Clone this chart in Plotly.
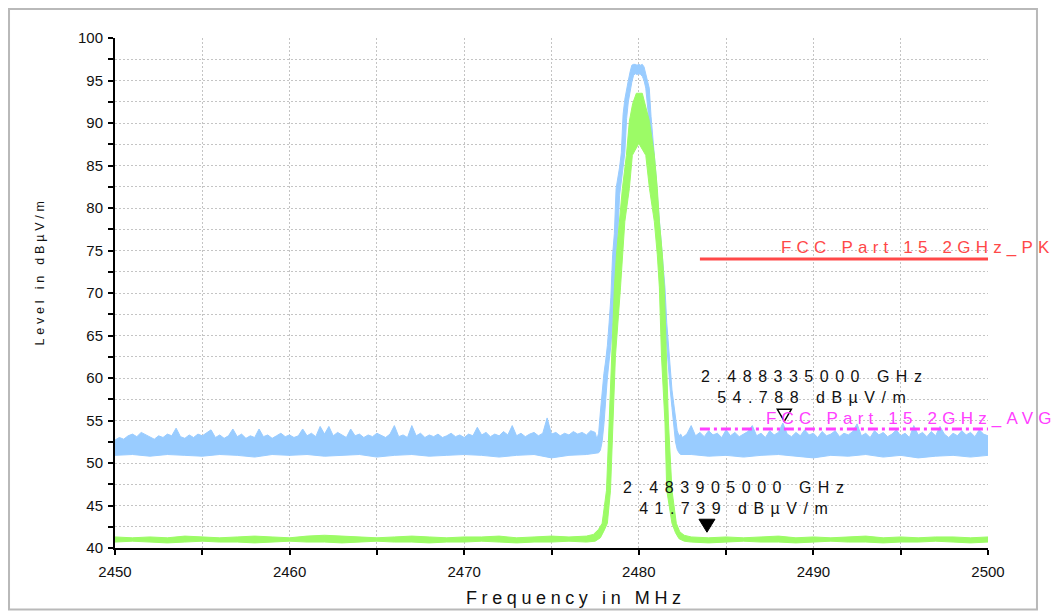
import numpy as np
import plotly.graph_objects as go

# ---------------- data ----------------
# frequency grids (MHz)
noise_left_freq = np.round(np.arange(2450.0, 2477.5 + 1e-9, 0.25), 2)
noise_right_freq = np.round(np.arange(2482.5, 2500.0 + 1e-9, 0.25), 2)
peak_freq = np.round(np.arange(2477.6, 2482.4 + 1e-9, 0.1), 1)
floor_left_freq = np.arange(2450.0, 2477.0 + 1e-9, 1.0)
floor_right_freq = np.arange(2483.0, 2500.0 + 1e-9, 1.0)

# Peak detector trace (blue): upper / lower envelope of the noisy trace
pk_left_top = [
    52.7, 53.0, 52.8, 53.2, 53.4, 53.1, 53.6, 53.3, 53.0, 52.8, 53.2, 53.0, 53.4, 53.2, 54.1, 53.1,
    52.9, 53.3, 53.0, 53.4, 53.2, 53.5, 53.9, 53.0, 53.3, 52.9, 53.2, 54.0, 53.1, 53.4, 52.9, 53.2,
    53.0, 54.0, 53.1, 53.3, 52.9, 53.2, 53.5, 53.1, 53.3, 53.0, 53.2, 54.0, 53.2, 53.5, 53.1, 54.3,
    53.4, 54.3, 53.2, 53.6, 53.3, 53.0, 54.0, 53.2, 53.4, 53.0, 53.3, 53.1, 53.5, 53.2, 53.0, 53.4,
    54.4, 53.1, 53.3, 53.0, 54.4, 53.2, 53.5, 53.0, 53.3, 53.1, 53.4, 53.0, 53.2, 53.5, 53.1, 53.3,
    53.0, 53.4, 53.2, 54.2, 53.3, 53.6, 53.1, 53.4, 53.2, 53.7, 53.3, 54.4, 53.2, 53.5, 53.1, 53.4,
    53.6, 53.2, 53.5, 55.3, 53.4, 53.6, 53.2, 53.5, 53.3, 53.7, 53.4, 53.6, 53.3, 53.8, 53.6,
]
pk_right_top = [
    53.0, 53.4, 54.4, 53.2, 53.6, 53.1, 53.8, 53.3, 53.5, 53.0, 53.9, 53.2, 53.6, 53.1, 53.4, 53.7,
    54.4, 53.2, 53.5, 53.0, 53.8, 53.3, 53.6, 54.7, 53.4, 53.1, 53.6, 53.2, 53.9, 53.3, 53.5, 53.0,
    53.7, 53.2, 53.4, 53.8, 53.1, 53.5, 53.3, 53.7, 54.6, 53.2, 53.5, 53.0, 53.8, 53.3, 53.6, 53.1,
    53.4, 53.9, 53.2, 53.5, 53.0, 54.4, 53.3, 53.6, 53.1, 53.7, 53.2, 54.3, 53.4, 53.0, 53.5, 53.2,
    53.8, 53.3, 53.6, 53.1, 53.9, 53.4, 53.2,
]
pk_peak_top = [
    52.8, 53.5, 56.0, 58.6, 60.5, 62.0, 63.8, 66.5, 69.5, 74.5, 77.0, 82.3, 83.5, 84.8, 86.5, 91.0,
    92.8, 94.1, 95.0, 96.0, 96.8, 96.9, 96.9, 96.8, 96.9, 96.8, 96.9, 96.6, 95.8, 95.0, 94.1, 90.8,
    88.5, 86.2, 83.5, 80.5, 78.0, 75.5, 73.0, 70.6, 66.5, 63.8, 61.2, 58.6, 57.0, 55.2, 53.8, 53.2,
    53.4,
]
pk_peak_bottom = [
    51.1, 51.2, 51.5, 52.5, 54.5, 58.0, 60.0, 62.0, 63.8, 66.5, 69.5, 74.0, 77.0, 81.5, 83.5, 84.8,
    86.5, 90.5, 92.5, 93.8, 94.8, 95.6, 95.8, 95.7, 95.8, 95.7, 95.5, 95.0, 94.1, 92.0, 90.0, 87.5,
    85.5, 83.0, 80.5, 78.0, 75.5, 73.0, 70.0, 66.5, 63.5, 61.0, 58.6, 56.5, 54.0, 52.5, 51.6, 51.2,
    51.0,
]
pk_left_bottom = [
    50.9, 51.0, 50.8, 51.0, 50.9, 50.8, 51.0, 50.9, 50.7, 51.0, 50.9, 51.0, 50.8, 50.9, 51.0, 50.7,
    50.9, 51.0, 50.8, 50.9, 51.0, 50.9, 50.7, 50.9, 51.0, 50.6, 50.9, 51.0,
]
pk_right_bottom = [
    51.0, 50.8, 50.9, 50.7, 50.9, 51.0, 50.8, 50.6, 50.9, 50.8, 51.0, 50.7, 50.9, 50.6, 50.8, 50.9,
    50.7, 50.9,
]

# Average detector trace (green): upper / lower envelope
avg_floor_left_top = [
    41.3, 41.2, 41.3, 41.2, 41.4, 41.3, 41.2, 41.3, 41.4, 41.3, 41.2, 41.4, 41.5, 41.4, 41.3, 41.2,
    41.3, 41.4, 41.3, 41.2, 41.3, 41.3, 41.4, 41.2, 41.3, 41.4, 41.3, 41.4,
]
avg_floor_left_bottom = [
    40.7, 40.8, 40.7, 40.6, 40.7, 40.8, 40.7, 40.7, 40.6, 40.7, 40.8, 40.7, 40.7, 40.6, 40.7, 40.8,
    40.7, 40.7, 40.6, 40.7, 40.7, 40.8, 40.7, 40.6, 40.7, 40.7, 40.8, 40.7,
]
avg_floor_right_top = [
    41.3, 41.2, 41.3, 41.2, 41.3, 41.4, 41.2, 41.3, 41.2, 41.3, 41.4, 41.2, 41.3, 41.2, 41.3, 41.3,
    41.2, 41.3,
]
avg_floor_right_bottom = [
    40.7, 40.6, 40.7, 40.8, 40.7, 40.7, 40.6, 40.7, 40.8, 40.7, 40.7, 40.6, 40.7, 40.7, 40.8, 40.7,
    40.6, 40.7,
]
avg_peak_top_freq = [
    2477.4, 2477.7, 2477.9, 2478.05, 2478.15, 2478.3, 2478.43, 2478.6, 2478.72, 2478.89,
    2479.06, 2479.29, 2479.46, 2479.65, 2479.86, 2480.2, 2480.4, 2480.61, 2480.89, 2481.06,
    2481.18, 2481.35, 2481.46, 2481.6, 2481.7, 2481.9, 2482.15, 2482.35, 2482.6,
]
avg_peak_top = [
    41.6, 42.2, 42.9, 45.0, 46.8, 54.7, 62.5, 70.6, 74.5, 78.4, 82.3, 86.2, 90.2, 92.3, 93.5,
    93.5, 92.0, 90.2, 86.2, 82.3, 78.4, 74.5, 70.6, 62.5, 54.7, 46.8, 42.9, 41.9, 41.5,
]
avg_peak_bottom_freq = [
    2477.5, 2477.8, 2478.0, 2478.2, 2478.38, 2478.5, 2478.66, 2478.95, 2479.06, 2479.2,
    2479.46, 2479.63, 2480.0, 2480.4, 2480.61, 2480.89, 2481.06, 2481.18, 2481.3, 2481.5,
    2481.6, 2481.9, 2482.1, 2482.3, 2482.6,
]
avg_peak_bottom = [
    40.8, 41.2, 42.0, 42.9, 46.8, 54.7, 62.5, 70.6, 74.5, 78.4, 82.3, 86.2, 87.6, 86.2, 82.3,
    78.4, 74.5, 70.6, 62.5, 54.7, 46.8, 42.9, 41.8, 41.1, 40.8,
]

# limit lines
limit_freq = [2483.5, 2500.0]
limit_pk_level = 74.0
limit_avg_level = 54.0
limit_pk_name = "FCC Part 15 2GHz_PK"
limit_avg_name = "FCC Part 15 2GHz_AVG"

# markers
marker_pk = {"freq": 2488.335, "level": 54.788, "ghz": "2.488335000 GHz", "val": "54.788 dBµV/m"}
marker_avg = {"freq": 2483.905, "level": 41.739, "ghz": "2.483905000 GHz", "val": "41.739 dBµV/m"}

x_major = [2450, 2460, 2470, 2480, 2490, 2500]
y_major = [40, 45, 50, 55, 60, 65, 70, 75, 80, 85, 90, 95, 100]

# ---------------- styling ----------------
BLUE = "#99ccff"
GREEN = "#9cfb66"
RED = "#ff4848"
MAGENTA = "#ff40ff"
FONT = "Liberation Sans, Arial, sans-serif"


def spaced(txt, px):
    return '<span style="letter-spacing:%spx">%s</span>' % (px, txt)


def band(fig, xl, yl, xu, yu, color):
    fig.add_trace(go.Scatter(x=xl, y=yl, mode="lines", line=dict(color=color, width=1),
                             hoverinfo="skip", showlegend=False))
    fig.add_trace(go.Scatter(x=xu, y=yu, mode="lines", line=dict(color=color, width=1),
                             fill="tonexty", fillcolor=color, hoverinfo="skip", showlegend=False))


fig = go.Figure()

pk_up_x = list(noise_left_freq) + list(peak_freq) + list(noise_right_freq)
pk_up_y = pk_left_top + pk_peak_top + pk_right_top
pk_lo_x = list(floor_left_freq) + list(peak_freq) + list(floor_right_freq)
pk_lo_y = pk_left_bottom + pk_peak_bottom + pk_right_bottom
band(fig, pk_lo_x, pk_lo_y, pk_up_x, pk_up_y, BLUE)

avg_up_x = list(floor_left_freq) + avg_peak_top_freq + list(floor_right_freq)
avg_up_y = avg_floor_left_top + avg_peak_top + avg_floor_right_top
avg_lo_x = list(floor_left_freq) + avg_peak_bottom_freq + list(floor_right_freq)
avg_lo_y = avg_floor_left_bottom + avg_peak_bottom + avg_floor_right_bottom
band(fig, avg_lo_x, avg_lo_y, avg_up_x, avg_up_y, GREEN)

fig.add_trace(go.Scatter(x=limit_freq, y=[limit_pk_level] * 2, mode="lines",
                         line=dict(color=RED, width=3), hoverinfo="skip", showlegend=False))
fig.add_trace(go.Scatter(x=limit_freq, y=[limit_avg_level] * 2, mode="lines",
                         line=dict(color=MAGENTA, width=3, dash="10px,4px,3px,4px"),
                         hoverinfo="skip", showlegend=False))

grid = dict(gridcolor="#c4c4c4", gridwidth=1, griddash="2px,2px")
# page has an 8px body margin, so the figure is 8px smaller and the margins are shifted
fig.update_layout(
    width=1055, height=603,
    margin=dict(l=107, r=75, t=30, b=63),
    paper_bgcolor="white", plot_bgcolor="white",
    font=dict(family=FONT, size=15, color="#111"),
    showlegend=False,
    xaxis=dict(range=[2450, 2500], tickvals=x_major, ticks="outside", ticklen=5, tickwidth=2,
               tickcolor="black", showline=True, linecolor="black", linewidth=2,
               showgrid=True, zeroline=False,
               minor=dict(dtick=5, ticks="outside", ticklen=5, tickwidth=2, tickcolor="black",
                          showgrid=True, **grid),
               tickfont=dict(size=15), ticklabelstandoff=4, **grid),
    yaxis=dict(range=[40, 100], tickvals=y_major, ticks="outside", ticklen=5, tickwidth=2,
               tickcolor="black", showline=True, linecolor="black", linewidth=2,
               showgrid=True, zeroline=False,
               minor=dict(dtick=2.5, ticks="outside", ticklen=5, tickwidth=2, tickcolor="black",
                          showgrid=True, **grid),
               tickfont=dict(size=15), ticklabelstandoff=2, **grid),
    xaxis2=dict(range=[2450, 2500], overlaying="x", anchor="y", side="bottom",
                tickvals=[2450, 2455, 2460, 2465, 2470, 2475, 2480, 2485, 2490, 2495, 2500],
                ticks="inside", ticklen=4, tickwidth=2, tickcolor="black",
                showticklabels=False, showgrid=False, showline=False, zeroline=False),
    yaxis2=dict(range=[40, 100], overlaying="y", anchor="x", side="left",
                tickvals=[40 + 2.5 * i for i in range(25)],
                ticks="inside", ticklen=3, tickwidth=2, tickcolor="black",
                showticklabels=False, showgrid=False, showline=False, zeroline=False),
)

# outer frame
fig.add_shape(type="rect", xref="paper", yref="paper", x0=-0.1214, x1=1.0561, y0=-0.1207, y1=1.0569,
              line=dict(color="#b9b9b9", width=2), layer="below")

# marker triangles (tip on the marker value)
fig.add_shape(type="path", xref="x", yref="y", xsizemode="pixel", ysizemode="pixel",
              xanchor=marker_pk["freq"], yanchor=marker_pk["level"],
              path="M -7,13 L 7,13 L 0,1 Z", line=dict(color="black", width=1.5), fillcolor="white")
fig.add_shape(type="path", xref="x", yref="y", xsizemode="pixel", ysizemode="pixel",
              xanchor=marker_avg["freq"], yanchor=marker_avg["level"],
              path="M -8,14 L 8,14 L 0,1 Z", line=dict(color="black", width=1), fillcolor="black")

for m in (marker_pk, marker_avg):
    fig.add_annotation(x=m["freq"], y=m["level"], xref="x", yref="y", showarrow=False,
                       text=spaced(m["ghz"], 6.5) + "<br>" + spaced(m["val"], 6.5),
                       xanchor="center", yanchor="middle", xshift=30, yshift=35,
                       font=dict(family=FONT, size=16, color="#111"), align="center")

fig.add_annotation(x=limit_freq[0], y=limit_pk_level, xref="x", yref="y", showarrow=False,
                   text=spaced(limit_pk_name, 5.2), xanchor="left", yanchor="bottom",
                   xshift=79, yshift=0, font=dict(family=FONT, size=17, color=RED))
fig.add_annotation(x=limit_freq[0], y=limit_avg_level, xref="x", yref="y", showarrow=False,
                   text=spaced(limit_avg_name, 5.2), xanchor="left", yanchor="bottom",
                   xshift=64, yshift=-1, font=dict(family=FONT, size=17, color=MAGENTA))

# axis titles
fig.add_annotation(x=0.528, y=-0.099, xref="paper", yref="paper", showarrow=False,
                   text=spaced("Frequency in MHz", 4.6), xanchor="center", yanchor="middle",
                   font=dict(family=FONT, size=18, color="#111"))
fig.add_annotation(x=-0.086, y=0.542, xref="paper", yref="paper", showarrow=False,
                   text=spaced("Level in dBµV/m", 3.8), textangle=-90, xanchor="center",
                   yanchor="middle", font=dict(family=FONT, size=12.5, color="#111"))

fig.write_html("out.html")
